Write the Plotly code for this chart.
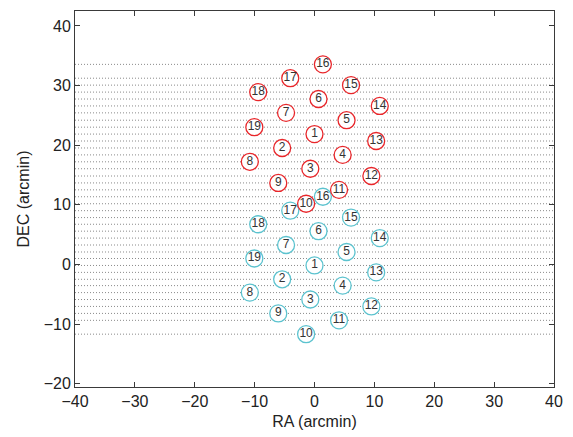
import plotly.graph_objects as go

# Beam numbers of the 19-beam receiver and their RA offsets (arcmin)
beam_ids = [16, 17, 15, 18, 6, 14, 7, 5, 19, 1, 13, 2, 4, 8, 3, 12, 9, 11, 10]
beam_ra = [1.4, -4.05, 6.1, -9.4, 0.67, 10.9, -4.75, 5.35, -10.05, 0.0,
           10.3, -5.4, 4.7, -10.8, -0.7, 9.5, -6.05, 4.1, -1.4]

# DEC of each beam centre (arcmin) for the two scans
dec_scan_a = [33.55, 31.23, 30.07, 28.90, 27.74, 26.58, 25.42, 24.19, 23.02, 21.86,
              20.70, 19.53, 18.37, 17.21, 16.05, 14.83, 13.67, 12.51, 10.18]
dec_scan_b = [11.35, 9.02, 7.86, 6.74, 5.58, 4.42, 3.26, 2.09, 1.00, -0.17,
              -1.33, -2.49, -3.55, -4.72, -5.88, -7.04, -8.21, -9.37, -11.69]

x_ticks = [-40, -30, -20, -10, 0, 10, 20, 30, 40]
y_ticks = [-20, -10, 0, 10, 20, 30, 40]

x_min, x_max = -40, 40
y_min, y_max = -20.55, 42.5

RED = "#e8262a"
CYAN = "#5cc3cf"
FONT = "Liberation Sans, Arial, Helvetica, sans-serif"

fig = go.Figure()

# Drift tracks: one dotted horizontal line at every beam DEC
track_x, track_y = [], []
for d in dec_scan_a + dec_scan_b:
    track_x += [x_min, x_max, None]
    track_y += [d, d, None]
fig.add_trace(go.Scatter(
    x=track_x, y=track_y, mode="lines",
    line=dict(color="#8a8a8a", width=1, dash="1px,2px"),
    hoverinfo="skip", showlegend=False,
))

# Beam circles, scan B underneath scan A
for decs, col in ((dec_scan_b, CYAN), (dec_scan_a, RED)):
    fig.add_trace(go.Scatter(
        x=beam_ra, y=decs, mode="markers+text",
        text=[str(b) for b in beam_ids], textposition="middle center",
        textfont=dict(family=FONT, size=12, color="#333333"),
        marker=dict(symbol="circle", size=17, color="white",
                    line=dict(color=col, width=1.3)),
        showlegend=False,
    ))

axis_common = dict(
    showgrid=False, zeroline=False, showline=True, linecolor="#3a3a3a",
    linewidth=1, mirror="ticks", ticks="inside", ticklen=5, tickwidth=1,
    tickcolor="#3a3a3a", tickfont=dict(family=FONT, size=16, color="#222222"),
)

fig.update_layout(
    width=573, height=437,
    margin=dict(l=75, r=18, t=10, b=48),
    paper_bgcolor="white", plot_bgcolor="white",
    font=dict(family=FONT, color="#222222"),
    xaxis=dict(range=[x_min, x_max], tickvals=x_ticks,
               title=dict(text="RA (arcmin)", font=dict(family=FONT, size=16), standoff=6),
               **axis_common),
    yaxis=dict(range=[y_min, y_max], tickvals=y_ticks,
               title=dict(text="DEC (arcmin)", font=dict(family=FONT, size=16), standoff=10),
               **axis_common),
)

fig.write_html("out.html")
